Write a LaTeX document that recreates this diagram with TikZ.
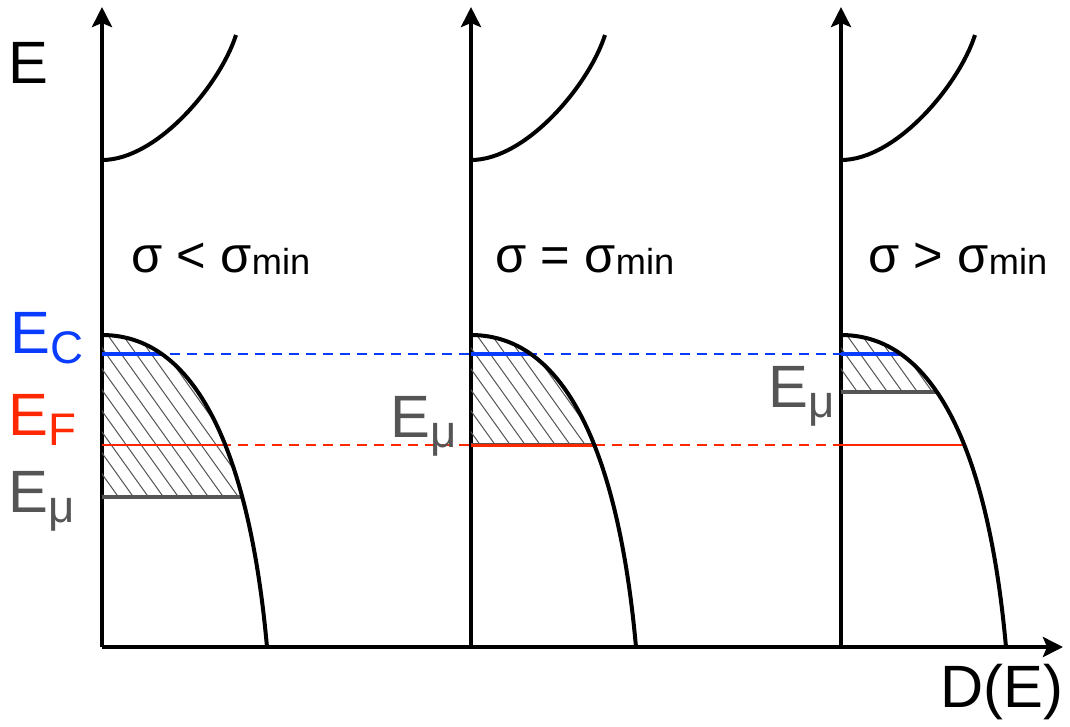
\documentclass[tikz,border=0pt]{standalone}
\usepackage{fontspec}
\setmainfont{Liberation Sans}
\usetikzlibrary{arrows.meta}

\definecolor{ecblue}{RGB}{10,60,255}
\definecolor{efred}{RGB}{255,40,0}
\definecolor{emugray}{RGB}{85,85,85}

\newcommand{\lowsub}[1]{\raisebox{-1mm}{\fontsize{13}{13}\selectfont #1}}
\newcommand{\minsub}{\raisebox{-0.2mm}{\fontsize{10.3}{10}\selectfont min}}

\begin{document}
\begin{tikzpicture}[x=1cm, y=1cm,
    axis/.style={line width=0.4mm, -{Stealth[length=2mm, width=2mm, inset=0.4mm]}},
    curve/.style={line width=0.4mm},
    hatch/.style={line width=0.1mm, emugray},
    level/.style={line width=0.4mm},
    guide/.style={line width=0.2mm, dash pattern=on 1mm off 0.7mm},
    lbl/.style={font=\fontsize{17}{20}\selectfont, inner sep=0pt, anchor=base west},
    sig/.style={font=\fontsize{14.4}{16}\selectfont, inner sep=0pt, anchor=base west}]
    \useasboundingbox (-1.02,-0.79) rectangle (9.68,6.47);

    % axes
    \coordinate (O) at (0,0);
    \coordinate (Dend) at (9.61,0);
    \draw[axis] (O) -- (Dend);
    \foreach \i/\ox in {1/0, 2/3.69, 3/7.39} {
        \coordinate (ax\i) at (\ox,0);
        \coordinate (top\i) at (\ox,6.40);
        \draw[axis] (ax\i) -- (top\i);
    }

    % E_C and E_F guides
    \coordinate (EC) at (0,2.93);
    \coordinate (EF) at (0,2.02);
    \draw[guide, ecblue] (EC) -- (7.39,2.93);
    \draw[guide, efred] (EF) -- (7.39,2.02);

    % three panels: level of E_mu, width of the red line
    \foreach \ox/\lev/\rw in {0/1.50/0.2mm, 3.69/2.02/0.3mm, 7.39/2.55/0.2mm} {
        \begin{scope}[xshift=\ox cm]
            \draw[curve] (0,4.87) .. controls (0.55,4.87) and (1.18,5.62) .. (1.34,6.12);
            \begin{scope}
                \clip (0,0) -- (0,3.12) .. controls (1.0,3.12) and (1.488,1.8) .. (1.65,0) -- cycle;
                \begin{scope}
                    \clip (0,\lev) rectangle (2,3.2);
                    \foreach \h in {-1.8,-1.65,...,1.8}
                        \draw[hatch] (\h,3.2) -- ++(1.6,-2.24);
                \end{scope}
                \draw[level, emugray] (0,\lev) -- (2,\lev);
                \draw[efred, line width=\rw] (0,2.02) -- (2,2.02);
                \draw[level, ecblue] (0,2.93) -- (2,2.93);
            \end{scope}
            \draw[curve] (0,3.12) .. controls (1.0,3.12) and (1.488,1.8) .. (1.65,0);
        \end{scope}
    }

    % labels
    \node[lbl] (lE) at (-0.94,5.64) {E};
    \node[lbl] (lD) at (8.38,-0.60) {D(E)};
    \node[lbl, ecblue] (lEC) at (-0.92,2.94) {E\lowsub{C}};
    \node[lbl, efred] (lEF) at (-0.94,2.12) {E\lowsub{F}};
    \foreach \n/\x/\y in {mu1/-0.94/1.35, mu2/2.88/2.10, mu3/6.66/2.40} {
        \node[lbl, emugray] (l\n) at (\x,\y) {E\lowsub{μ}};
    }
    \node[sig] (s1) at (0.29,3.75) {σ < σ\minsub};
    \node[sig] (s2) at (3.93,3.75) {σ = σ\minsub};
    \node[sig] (s3) at (7.66,3.75) {σ > σ\minsub};
\end{tikzpicture}
\end{document}
